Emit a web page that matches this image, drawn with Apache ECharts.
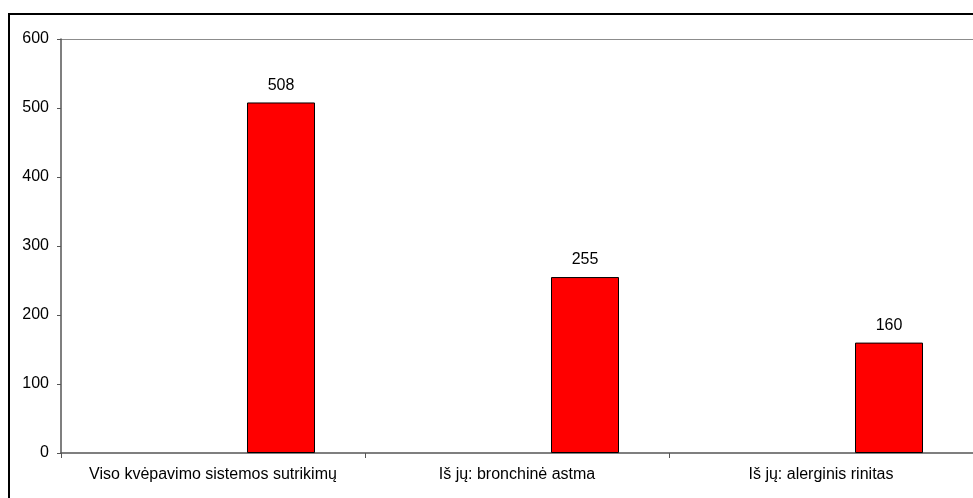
<!DOCTYPE html>
<html>
<head>
<meta charset="utf-8">
<script src="https://cdn.jsdelivr.net/npm/echarts@6/dist/echarts.min.js"></script>
<style>
  html, body { margin: 0; padding: 0; background: #fff; }
  #main { width: 973px; height: 498px; }
</style>
</head>
<body>
<div id="main"></div>
<script>
"use strict";
// chart data
let categories = ['Viso kvėpavimo sistemos sutrikimų', 'Iš jų: bronchinė astma', 'Iš jų: alerginis rinitas'];
let emptyValues = [null, null, null]; // empty first series, keeps the red bar shifted right like the original
let caseValues = [508, 255, 160];
let yTicks = { min: 0, max: 600, step: 100 };

let myChart = echarts.init(document.getElementById('main'));

// only the top gridline (at 600) is drawn, like the plot area border of the original
let clear = 'rgba(0,0,0,0)';
let splitColors = [clear, clear, clear, clear, clear, clear, '#8c8c8c'];

let option = {
    animation: false,
    textStyle: { fontFamily: 'Liberation Sans, Arial, sans-serif' },
    graphic: [{
        // outer frame, only left and top edges are visible in the picture
        type: 'polyline',
        shape: { points: [[9, 600], [9, 14], [1000, 14]] },
        style: { stroke: '#000', lineWidth: 2, fill: null },
        silent: true
    }],
    grid: {
        left: 61,
        top: 39,
        bottom: 45,
        right: -4
    },
    xAxis: {
        type: 'category',
        data: categories,
        axisLine: { lineStyle: { color: '#555', width: 1.5 } },
        axisTick: { show: true, length: 5, lineStyle: { color: '#555' } },
        axisLabel: { interval: 0, color: '#000', fontSize: 16, margin: 14 },
        splitLine: { show: false }
    },
    yAxis: {
        type: 'value',
        min: yTicks.min,
        max: yTicks.max,
        interval: yTicks.step,
        axisLine: { show: true, lineStyle: { color: '#555', width: 1.5 } },
        axisTick: { show: true, length: 4, lineStyle: { color: '#555' } },
        axisLabel: { color: '#000', fontSize: 16, margin: 12 },
        splitLine: { show: true, lineStyle: { color: splitColors, width: 1 } }
    },
    series: [
        {
            name: 'tuščia',
            type: 'bar',
            data: emptyValues,
            barWidth: 68,
            barGap: '100%'
        },
        {
            name: 'Atvejai',
            type: 'bar',
            data: caseValues,
            barWidth: 68,
            barGap: '100%',
            itemStyle: { color: '#ff0000', borderColor: '#000', borderWidth: 1 },
            label: {
                show: true,
                position: 'top',
                distance: 9,
                color: '#000',
                fontSize: 16
            }
        }
    ]
};
myChart.setOption(option);
</script>
</body>
</html>
